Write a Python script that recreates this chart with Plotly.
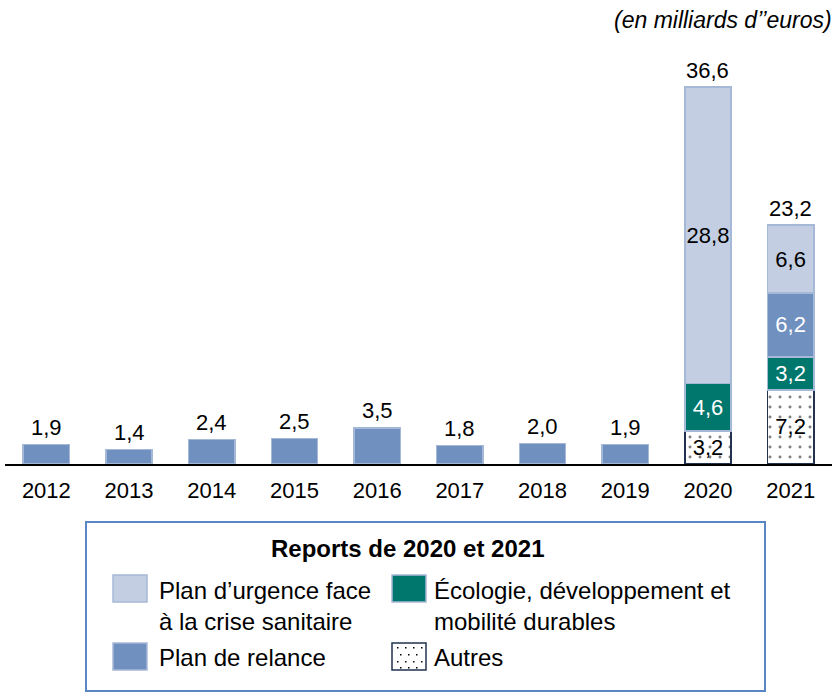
import plotly.graph_objects as go

# ---- data ----
years_hist = ["2012", "2013", "2014", "2015", "2016", "2017", "2018", "2019"]
values_hist = [1.9, 1.4, 2.4, 2.5, 3.5, 1.8, 2.0, 1.9]

years_recent = ["2020", "2021"]
autres = [3.2, 7.2]
ecologie = [4.6, 3.2]
relance = [None, 6.2]
urgence = [28.8, 6.6]
totals_recent = [36.6, 23.2]

all_years = years_hist + years_recent

legend_title = "Reports de 2020 et 2021"
legend_labels = ["Plan d’urgence face<br>à la crise sanitaire",
                 "Écologie, développement et<br>mobilité durables",
                 "Plan de relance",
                 "Autres"]
unit_label = "(en milliards d’’euros)"

def fmt(v):
    return ("%.1f" % v).replace(".", ",")

# ---- style ----
C_URG = "#c3cee2"
C_REL = "#7090bf"
C_ECO = "#00776d"
C_EDGE = "#a6b8d7"
C_AUT_EDGE = "#22324f"
FONT = "Liberation Sans, Arial, sans-serif"
W, H = 837, 692
ML, MR, MT, MB = 5, 5, 52, 228
PW, PH = W - ML - MR, H - MT - MB

def px_x(p):
    return (p - ML) / PW

def px_y(p):
    return (H - MB - p) / PH

fig = go.Figure()

fig.add_trace(go.Bar(
    x=years_hist, y=values_hist, marker=dict(color=C_REL, line=dict(color=C_EDGE, width=1.5)),
    showlegend=False, hoverinfo="skip"))

def seg(vals, color, txtcolor, edge=C_EDGE, pattern=None):
    m = dict(color=color, line=dict(color=edge, width=1.5))
    if pattern:
        m["pattern"] = pattern
    fig.add_trace(go.Bar(
        x=years_recent, y=vals, marker=m,
        text=[fmt(v) if v is not None else "" for v in vals],
        textposition="inside", insidetextanchor="middle", constraintext="none", textangle=0,
        textfont=dict(family=FONT, size=22, color=txtcolor),
        showlegend=False, hoverinfo="skip"))

seg(autres, "white", "black", edge=C_AUT_EDGE,
    pattern=dict(shape=".", fgcolor="black", bgcolor="white", size=10, solidity=0.07))
seg(ecologie, C_ECO, "white")
seg(relance, C_REL, "white")
seg(urgence, C_URG, "black")

annotations = []
for x, v in list(zip(years_hist, values_hist)) + list(zip(years_recent, totals_recent)):
    annotations.append(dict(x=all_years.index(x), y=v, text=fmt(v), showarrow=False,
                            yanchor="middle", yshift=17,
                            font=dict(family=FONT, size=22, color="black")))

annotations.append(dict(xref="paper", yref="paper", x=px_x(834), y=px_y(20), xanchor="right",
                        yanchor="middle", text="<i>" + unit_label + "</i>", showarrow=False,
                        font=dict(family=FONT, size=23, color="black")))

# ---- manual legend ----
shapes = [dict(type="rect", xref="paper", yref="paper", x0=px_x(86), x1=px_x(765),
               y0=px_y(522), y1=px_y(691), line=dict(color="#5b86c6", width=2),
               fillcolor="rgba(0,0,0,0)", layer="above")]
annotations.append(dict(xref="paper", yref="paper", x=px_x(407), y=px_y(548), xanchor="center",
                        yanchor="middle", text="<b>" + legend_title + "</b>", showarrow=False,
                        font=dict(family=FONT, size=24, color="black")))

swatches = [
    (113, 575, C_URG, C_EDGE, 157, 606),
    (392, 575, C_ECO, C_EDGE, 432, 606),
    (113, 643, C_REL, C_EDGE, 157, 657),
    (392, 643, "white", C_AUT_EDGE, 432, 657),
]
SW, SH = 34, 27
for i, (sx, sy, fc, ec, tx, ty) in enumerate(swatches):
    shapes.append(dict(type="rect", xref="paper", yref="paper", x0=px_x(sx), x1=px_x(sx + SW),
                       y0=px_y(sy), y1=px_y(sy + SH), fillcolor=fc, line=dict(color=ec, width=1.5),
                       layer="above"))
    annotations.append(dict(xref="paper", yref="paper", x=px_x(tx), y=px_y(ty), xanchor="left",
                            yanchor="middle", align="left", text=legend_labels[i], showarrow=False,
                            font=dict(family=FONT, size=24, color="black")))
# dots for the "Autres" swatch
for dx in (5, 13, 21, 29):
    for dy in (4, 11, 18, 24):
        ox = 392 + dx + (3 if (dy // 7) % 2 else 0)
        if ox > 392 + SW - 3:
            continue
        oy = 643 + dy
        shapes.append(dict(type="rect", xref="paper", yref="paper", x0=px_x(ox), x1=px_x(ox + 1.5),
                           y0=px_y(oy), y1=px_y(oy + 1.5), fillcolor="black", line=dict(width=0),
                           layer="above"))

fig.update_layout(
    width=W, height=H, margin=dict(l=ML, r=MR, t=MT, b=MB),
    barmode="stack", bargap=0.44,
    plot_bgcolor="white", paper_bgcolor="white",
    xaxis=dict(type="category", categoryorder="array", categoryarray=all_years,
               range=[-0.5, len(all_years) - 0.5], showline=True,
               linecolor="black", linewidth=1.5, ticks="", ticklabelstandoff=6, showgrid=False,
               tickfont=dict(family=FONT, size=22, color="black")),
    yaxis=dict(range=[0, 40], visible=False, showgrid=False),
    shapes=shapes, annotations=annotations,
)

fig.write_html("out.html", config={"displayModeBar": False},
               post_script="document.body.style.margin='0';document.body.style.overflow='hidden';")
